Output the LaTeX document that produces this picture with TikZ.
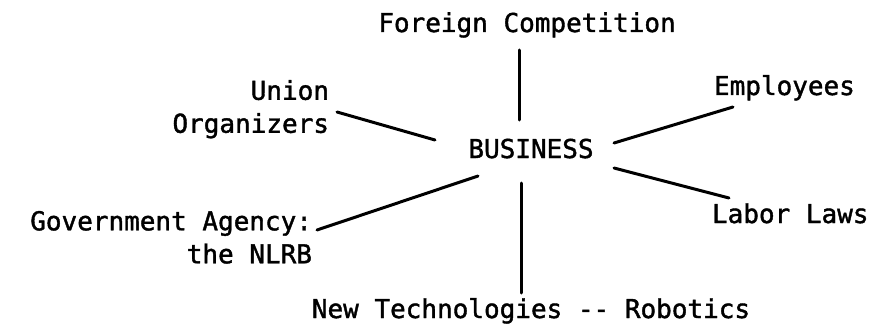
\documentclass[tikz,border=0pt]{standalone}
\usepackage{fontspec}
\newfontfamily\labelfont[FakeBold=1.5]{DejaVu Sans Mono}
\begin{document}
\begin{tikzpicture}[x=1pt,y=-1pt,
  lbl/.style={inner sep=0pt, outer sep=0pt, font=\labelfont\fontsize{26}{33}\selectfont},
  link/.style={line width=3pt, line cap=round}]
\useasboundingbox (0,0) rectangle (882,326);

% the hub
\node[lbl, anchor=base] (biz) at (531,158) {BUSINESS};

% surrounding forces
\node[lbl, anchor=base] (fc) at (527,32) {Foreign Competition};
\node[lbl, anchor=base] (nt) at (531,318) {New Technologies -{}- Robotics};
\node[lbl, anchor=north east, align=right] (union) at (329,80) {Union\\Organizers};
\node[lbl, anchor=north east, align=right] (gov) at (312,211) {Government Agency:\\the NLRB};
\node[lbl, anchor=base west] (emp) at (714,95) {Employees};
\node[lbl, anchor=base west] (lab) at (712,223) {Labor Laws};

% spokes
\draw[link] ([shift={(-8,18)}]fc.base) -- ([shift={(-12,-38)}]biz.base);
\draw[link] ([shift={(-10,25)}]biz.base) -- ([shift={(-10,-25)}]nt.base);
\draw[link] ([shift={(8,32)}]union.north east) -- ([shift={(-96,-18)}]biz.base);
\draw[link] ([shift={(5,19)}]gov.north east) -- ([shift={(-53,18)}]biz.base);
\draw[link] ([shift={(83,-15)}]biz.base) -- ([shift={(19,12)}]emp.base west);
\draw[link] ([shift={(83,10)}]biz.base) -- ([shift={(17,-25)}]lab.base west);
\end{tikzpicture}
\end{document}
